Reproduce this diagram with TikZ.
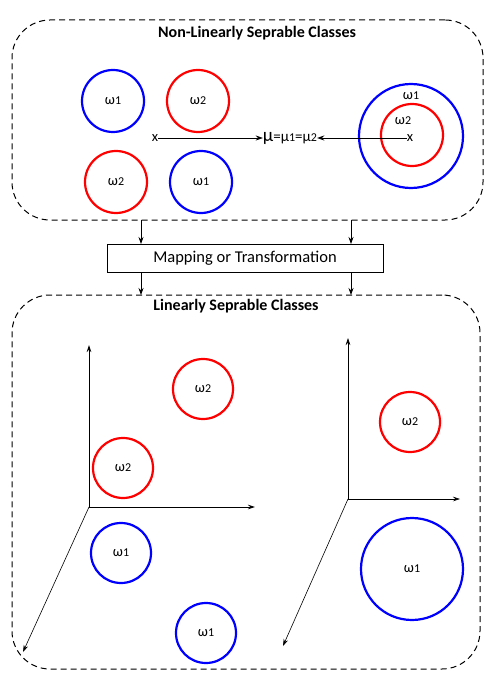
\documentclass[tikz,border=0pt]{standalone}
\usepackage{fontspec}
\setmainfont{Carlito}
\usetikzlibrary{arrows.meta}
\newcommand{\myidx}[1]{{\fontsize{12}{12}\selectfont #1}}
\begin{document}
\begin{tikzpicture}[x=1pt,y=-1pt,
  region/.style={draw,dash pattern=on 6pt off 4pt,rounded corners=38pt,line width=1pt},
  bluec/.style={circle,draw=blue,line width=2.2pt,inner sep=0pt,font=\fontsize{14.5}{16}\selectfont},
  redc/.style={circle,draw=red,line width=2.2pt,inner sep=0pt,font=\fontsize{14.5}{16}\selectfont},
  arr/.style={-{Stealth[length=7pt,width=5pt]},line width=0.8pt},
  axis/.style={-{Stealth[length=7pt,width=4.5pt]},line width=0.8pt},
  ttl/.style={font=\bfseries\fontsize{16}{18}\selectfont},
  lbl/.style={font=\fontsize{14.5}{16}\selectfont,inner sep=0pt}]
\useasboundingbox (0,0) rectangle (492,679);
% top region
\node[region,minimum width=471pt,minimum height=200pt] (top) at (247.5,120) {};
\node[ttl] (t1) at (257,33) {Non-Linearly Seprable Classes};
\node[bluec,minimum size=62pt] (a1) at (113,101) {ω\myidx{1}};
\node[redc,minimum size=62pt] (a2) at (198,101) {ω\myidx{2}};
\node[redc,minimum size=62pt] (a3) at (116,182) {ω\myidx{2}};
\node[bluec,minimum size=62pt] (a4) at (201,182) {ω\myidx{1}};
\node[bluec,minimum size=104pt] (big) at (411,136) {};
\node[redc,minimum size=62pt] (inner) at (412,135) {};
\node[lbl] (l1) at (411,96) {ω\myidx{1}};
\node[lbl] (l2) at (403,121) {ω\myidx{2}};
\node[lbl] (xl) at (155,138) {x};
\node[lbl] (xr) at (410,138) {x};
\node[lbl,font=\fontsize{19}{20}\selectfont] (mu) at (290,138) {μ{\fontsize{15}{16}\selectfont =μ\myidx{1}=μ\myidx{2}}};
\draw[arr,line width=0.6pt] (xl.east) -- (mu.west);
\draw[arr] (xr.west) -- (mu.east);
% mapping box
\node[draw,line width=0.9pt,minimum width=276pt,minimum height=28pt,font=\fontsize{16.5}{18}\selectfont] (map) at (245,258) {Mapping or Transformation};
% bottom region
\node[region,minimum width=468pt,minimum height=374pt] (bot) at (246,482) {};
\node[ttl] (t2) at (236,306) {Linearly Seprable Classes};
\coordinate (m1) at (141,220);
\coordinate (m2) at (351,220);
\coordinate (m3) at (141,272);
\coordinate (m4) at (351,272);
\coordinate (m5) at (141,295);
\coordinate (m6) at (351,295);
\coordinate (m7) at (141,244);
\coordinate (m8) at (351,244);
\draw[arr] (m1) -- (m7);
\draw[arr] (m2) -- (m8);
\draw[arr] (m3) -- (m5);
\draw[arr] (m4) -- (m6);
% left axes
\coordinate (o1) at (89,507);
\coordinate (o1y) at (89,345);
\coordinate (o1x) at (255,507);
\coordinate (o1z) at (23,652);
\draw[axis] (o1) -- (o1y);
\draw[axis] (o1) -- (o1x);
\draw[axis,line width=0.6pt] (o1) -- (o1z);
\node[redc,minimum size=60pt] (b1) at (203,389) {ω\myidx{2}};
\node[redc,minimum size=60pt] (b2) at (123,468) {ω\myidx{2}};
\node[bluec,minimum size=60pt] (b3) at (121,553) {ω\myidx{1}};
\node[bluec,minimum size=60pt] (b4) at (206,633) {ω\myidx{1}};
% right axes
\coordinate (o2) at (348,499);
\coordinate (o2y) at (348,338);
\coordinate (o2x) at (460,499);
\coordinate (o2z) at (283,646);
\draw[axis,line width=0.6pt] (o2) -- (o2y);
\draw[axis,line width=0.6pt] (o2) -- (o2x);
\draw[axis,line width=0.6pt] (o2) -- (o2z);
\node[redc,minimum size=60pt] (c1) at (410,422) {ω\myidx{2}};
\node[bluec,minimum size=102pt] (c2) at (412,569) {ω\myidx{1}};
\end{tikzpicture}
\end{document}
